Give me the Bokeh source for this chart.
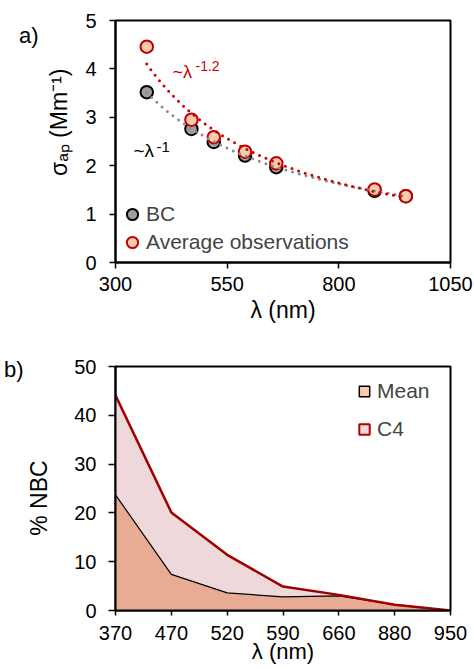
import numpy as np
from bokeh.plotting import figure
from bokeh.layouts import column
from bokeh.models import Range1d, FixedTicker, Label, Legend, LegendItem, LinearAxis
from bokeh.embed import file_html
from bokeh.resources import INLINE

FONT = "Liberation Sans"

# ---- panel a: absorption vs wavelength ----
wavelength = [370, 470, 520, 590, 660, 880, 950]
bc_abs = [3.52, 2.76, 2.49, 2.21, 1.97, 1.48, 1.37]
obs_abs = [4.46, 2.95, 2.59, 2.29, 2.05, 1.51, 1.37]
a_xticks = [300, 550, 800, 1050]
a_yticks = [0, 1, 2, 3, 4, 5]

# ---- panel b: non-BC fraction ----
nbc_labels = ["370", "470", "520", "590", "660", "880", "950"]
nbc_mean = [23.7, 7.4, 3.6, 2.8, 3.0, 1.2, 0.0]
nbc_c4 = [44.1, 20.1, 11.4, 4.9, 3.2, 1.2, 0.0]
b_yticks = [0, 10, 20, 30, 40, 50]

NBSP = "\u00a0"


def power_fit(x, y, n=200):
    """Least-squares power-law trend y = A * x**b, evaluated over the data span."""
    b, a = np.polyfit(np.log(x), np.log(y), 1)
    grid = np.linspace(min(x), max(x), n)
    return grid, np.exp(a) * grid ** b


def style(p):
    p.xgrid.visible = False
    p.ygrid.visible = False
    p.outline_line_color = "black"
    p.outline_line_width = 2
    p.outline_line_alpha = 1
    p.background_fill_color = "white"
    p.border_fill_color = "white"
    for ax in (p.xaxis, p.yaxis):
        ax.axis_line_width = 2
        ax.axis_line_color = "black"
        ax.major_tick_line_width = 1.5
        ax.major_tick_line_color = "black"
        ax.major_tick_in = 0
        ax.minor_tick_in = 0
        ax.minor_tick_out = 0
        ax.major_label_text_font = FONT
        ax.major_label_text_font_size = "20px"
        ax.major_label_text_color = "black"
        ax.axis_label_text_font = FONT
        ax.axis_label_text_font_style = "normal"
        ax.axis_label_text_font_size = "23px"
        ax.axis_label_text_color = "black"


def panel_tag(p, text, level, standoff):
    """Horizontal panel letter drawn as the only tick label of a bare left axis."""
    tag = LinearAxis(ticker=FixedTicker(ticks=[level], minor_ticks=[]),
                     major_label_overrides={level: text},
                     axis_line_alpha=0, major_tick_line_alpha=0, minor_tick_line_alpha=0,
                     major_tick_in=0, major_tick_out=0, minor_tick_in=0, minor_tick_out=0,
                     major_label_standoff=standoff, major_label_text_font=FONT,
                     major_label_text_font_size="22px", major_label_text_color="black")
    p.add_layout(tag, "left")


def txt(p, text, x, y, size, color="black"):
    p.add_layout(Label(x=x, y=y, x_units="screen", y_units="screen", text=text,
                       text_font=FONT, text_font_size=size, text_color=color,
                       text_align="left", text_baseline="alphabetic"))


# ================= panel a =================
pa = figure(width=474, height=330, output_backend="svg", toolbar_location=None,
            x_range=Range1d(300, 1050), y_range=Range1d(0, 5),
            min_border_left=112, min_border_right=24, min_border_top=20, min_border_bottom=68)
style(pa)
pa.xaxis.ticker = FixedTicker(ticks=a_xticks)
pa.yaxis.ticker = FixedTicker(ticks=a_yticks)
pa.xaxis.major_tick_out = 6
pa.yaxis.major_tick_out = 6
pa.xaxis.major_label_standoff = 8
pa.yaxis.major_label_standoff = 13
pa.xaxis.axis_label = "λ (nm)"
pa.xaxis.axis_label_standoff = 3
pa.yaxis.axis_label = NBSP * 6 + "σₐₚ (Mm⁻¹)"
pa.yaxis.axis_label_standoff = 10
panel_tag(pa, "a)", 4.69, 5)

r_bc = pa.scatter(wavelength, bc_abs, size=12.5, fill_color="#9E9E9E", line_color="black", line_width=2)
r_obs = pa.scatter(wavelength, obs_abs, size=12.5, fill_color="#F8CBAD", line_color="#C00000", line_width=2)

gx, gy = power_fit(wavelength, bc_abs)
pa.line(gx, gy, line_color="#8C8C8C", line_width=3, line_dash="0 7", line_cap="round")
ox, oy = power_fit(wavelength, obs_abs)
pa.line(ox, oy, line_color="#CC0000", line_width=3, line_dash="0 7", line_cap="round")

leg_a = Legend(items=[LegendItem(label="BC", renderers=[r_bc]),
                      LegendItem(label="Average observations", renderers=[r_obs])],
               location=(3, 6), orientation="vertical",
               glyph_width=28, glyph_height=28, spacing=-2, padding=0, margin=0,
               label_standoff=-4, label_text_font=FONT, label_text_font_size="21px",
               label_height=26, border_line_alpha=0, background_fill_alpha=0)
pa.add_layout(leg_a)

# power-law annotations
txt(pa, "~λ", 57, 191, "18px", "#CC0000")
txt(pa, "-1.2", 80, 197, "14px", "#CC0000")
txt(pa, "~λ", 18, 112, "19px")
txt(pa, "-1", 41, 116, "15px")

# ================= panel b =================
xb = list(range(len(nbc_labels)))
pb = figure(width=474, height=339, output_backend="svg", toolbar_location=None,
            x_range=Range1d(0, len(nbc_labels) - 1), y_range=Range1d(0, 50),
            min_border_left=114, min_border_right=21, min_border_top=36, min_border_bottom=59)
style(pb)
pb.xaxis.ticker = FixedTicker(ticks=xb)
pb.xaxis.major_label_overrides = {i: lab for i, lab in zip(xb, nbc_labels)}
pb.yaxis.ticker = FixedTicker(ticks=b_yticks)
pb.xaxis.major_tick_out = 5
pb.yaxis.major_tick_out = 7
pb.xaxis.major_label_standoff = 10
pb.yaxis.major_label_standoff = 12
pb.xaxis.axis_label = "λ (nm)"
pb.xaxis.axis_label_text_font_size = "22px"
pb.xaxis.axis_label_standoff = -4
pb.yaxis.axis_label = "% NBC" + NBSP * 3
pb.yaxis.axis_label_standoff = 19
panel_tag(pb, "b)", 49.4, 0)

pb.varea(x=xb, y1=0, y2=nbc_c4, fill_color="#EED8DA")
pb.varea(x=xb, y1=0, y2=nbc_mean, fill_color="#E8AC94")
pb.line(xb, nbc_mean, line_color="black", line_width=1.2)
pb.line(xb, nbc_c4, line_color="#A00000", line_width=2.5)

# legend keys (hidden renderers, shown only as legend swatches)
r_mean_key = pb.scatter(xb, nbc_mean, marker="square", fill_color="#F8CBAD",
                        line_color="black", line_width=1.5, visible=False)
r_c4_key = pb.scatter(xb, nbc_c4, marker="square", fill_color="#EED8DA",
                      line_color="#B00000", line_width=2, visible=False)
leg_b = Legend(items=[LegendItem(label="Mean", renderers=[r_mean_key]),
                      LegendItem(label="C4", renderers=[r_c4_key])],
               location=(236, 168), orientation="vertical",
               glyph_width=26, glyph_height=26, spacing=12, padding=0, margin=0,
               label_standoff=-6, label_text_font=FONT, label_text_font_size="21px",
               label_height=26, border_line_alpha=0, background_fill_alpha=0,
               inactive_fill_alpha=0)
pb.add_layout(leg_b)

layout = column(pa, pb)
open("out.html", "w").write(file_html(layout, INLINE))
